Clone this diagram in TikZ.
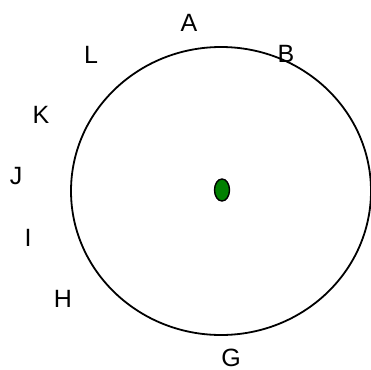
\documentclass[tikz,border=0pt]{standalone}
\usepackage{fontspec}
\setmainfont{Liberation Sans}
\definecolor{HubGreen}{RGB}{0,128,0}
\usetikzlibrary{shapes.geometric}

\begin{document}
\begin{tikzpicture}[x=1pt, y=-1pt, font=\fontsize{25}{29}\selectfont]
	\useasboundingbox (0,0) rectangle (371,369);
	% outer ring and centre mark
	\node[ellipse, draw, line width=1.8pt, inner sep=0pt,
		minimum width=300pt, minimum height=288pt] (ring) at (221,191) {};
	\node[ellipse, draw, line width=1.4pt, fill=HubGreen, inner sep=0pt,
		minimum width=15pt, minimum height=22pt] (hub) at (222,190) {};
	% letters round the ring
	\foreach \lab/\x/\y in {A/189/23, B/286/54, L/91/55, K/41/115,
		J/16/176, I/28/238, H/63/299, G/231/358}{
		\node[inner sep=0pt] (lab\lab) at (\x,\y) {\lab};
	}
\end{tikzpicture}
\end{document}
